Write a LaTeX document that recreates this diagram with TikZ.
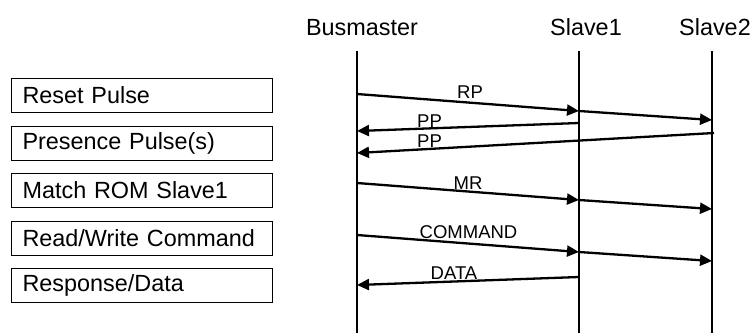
\documentclass[tikz,border=0pt]{standalone}
\usepackage{fontspec}
\setmainfont{Liberation Sans}
\usetikzlibrary{arrows.meta}
\tikzset{>={Triangle[length=12pt,width=11pt]}}

\begin{document}
\begin{tikzpicture}[x=1pt, y=-1pt,
    stepbox/.style={draw, line width=1.1pt, anchor=north west, minimum height=34pt,
      text width=239pt, inner xsep=11pt, align=left, font=\fontsize{23.4}{26}\selectfont},
    lifeline/.style={line width=2.3pt},
    msg/.style={->, line width=2.3pt},
    msglabel/.style={anchor=base, inner sep=0pt, font=\fontsize{18.5}{20}\selectfont},
    head/.style={anchor=base, inner sep=0pt, font=\fontsize{23.4}{26}\selectfont}]
  \useasboundingbox (0, 0) rectangle (753, 333);
  % participants
  \node[head] (master) at (362, 35) {Busmaster};
  \node[head] (slave1) at (586, 35) {Slave1};
  \node[head] (slave2) at (715, 35) {Slave2};
  \draw[lifeline] (357, 51) -- (357, 333);
  \draw[lifeline] (579, 51) -- (579, 333);
  \draw[lifeline] (712, 51) -- (712, 333);
  % phases
  \foreach \name/\txt [count=\i from 0] in {rst/{Reset Pulse}, pres/{Presence Pulse(s)},
      match/{Match ROM Slave1}, rw/{Read/Write Command}, resp/{Response/Data}}
    \node[stepbox] (\name) at (11, 78 + 47.5*\i) {\txt};
  % points on the lifelines
  \coordinate (m1) at (357, 94);   \coordinate (a1) at (579, 111);  \coordinate (b1) at (712, 120);
  \coordinate (a2) at (579, 123);  \coordinate (m2) at (357, 131);
  \coordinate (b3) at (714, 133);  \coordinate (m3) at (357, 153);
  \coordinate (m4) at (357, 183);  \coordinate (a4) at (579, 200);  \coordinate (b4) at (712, 209);
  \coordinate (m5) at (357, 235);  \coordinate (a5) at (579, 252);  \coordinate (b5) at (712, 261);
  \coordinate (a6) at (579, 277);  \coordinate (m6) at (357, 285);
  % messages
  \draw[msg] (m1) -- (a1);
  \draw[msg] (a1) -- (b1);
  \node[msglabel] (rp) at (470, 98) {RP};
  \draw[msg] (a2) -- (m2);
  \node[msglabel] (pp1) at (429.5, 127) {PP};
  \draw[msg] (b3) -- (m3);
  \node[msglabel] (pp2) at (429.5, 147) {PP};
  \draw[msg] (m4) -- (a4);
  \draw[msg] (a4) -- (b4);
  \node[msglabel] (mr) at (468, 189) {MR};
  \draw[msg] (m5) -- (a5);
  \draw[msg] (a5) -- (b5);
  \node[msglabel] (cmd) at (468.5, 238) {COMMAND};
  \draw[msg] (a6) -- (m6);
  \node[msglabel] (data) at (454, 279) {DATA};
\end{tikzpicture}
\end{document}
